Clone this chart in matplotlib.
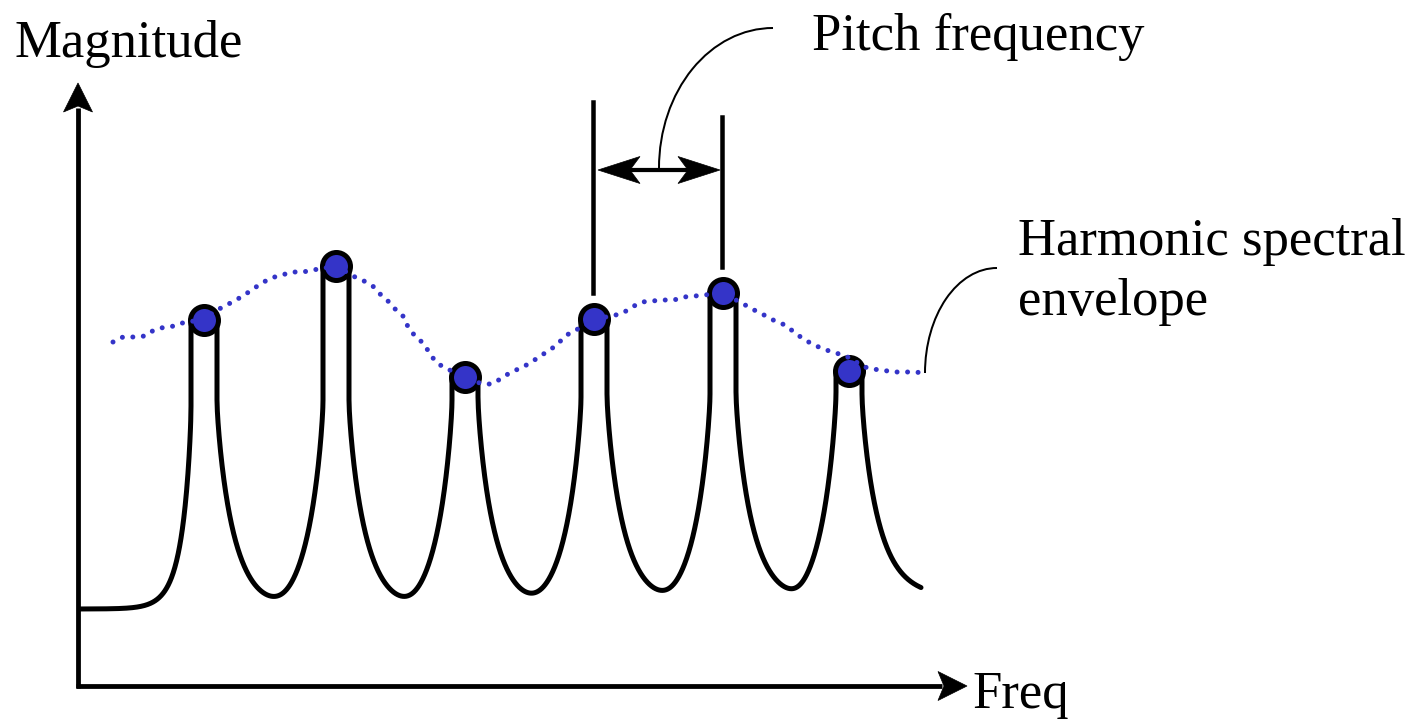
import numpy as np
import matplotlib
matplotlib.use("Agg")
import matplotlib.pyplot as plt
from matplotlib.patches import Polygon, Arc

# ---------------- data (pixel-like units, y grows downward) ----
peak_freq = [204, 336, 465, 594, 723, 849]          # harmonic positions
peak_level = [320, 266, 377, 319, 293, 371]         # peak tops (marker centres)
trough_freq = [277, 407, 533, 665, 795]             # minima between harmonics
floor_level = [609, 603, 603, 600, 597, 595, 597]   # left floor, troughs, right tail level
curve_start, curve_end = 80, 921

env_x = [113, 123, 134, 145, 154, 165, 175, 185, 204, 215, 225, 234, 243, 253, 262, 271,
         282, 292, 303, 313, 336, 355, 364, 374, 381, 389, 396, 404, 408, 415, 423, 429,
         435, 443, 465, 482, 492, 502, 511, 521, 530, 539, 548, 557, 564, 573, 583, 594,
         612, 623, 632, 642, 652, 663, 674, 684, 695, 723, 747, 756, 766, 775, 785, 794,
         802, 812, 821, 832, 843, 852, 862, 871, 882, 893, 903, 914, 925]
env_y = [342, 337, 337, 336, 330, 327, 326, 322, 320, 311, 306, 301, 296, 289, 283, 278,
         275, 272, 272, 270, 266, 277, 281, 287, 295, 302, 310, 317, 327, 336, 343, 352,
         361, 367, 377, 384, 384, 378, 372, 368, 363, 357, 351, 345, 337, 331, 327, 319,
         316, 313, 307, 302, 301, 300, 300, 297, 296, 293, 306, 311, 316, 321, 325, 332,
         338, 344, 348, 352, 355, 359, 366, 369, 370, 372, 372, 372, 373]

pitch_line_top = [102, 117]   # tops of the two pitch marker lines (peaks 4 and 5)

# ---------------- style / layout ----------------
W, H = 1422, 722
PX = 0.72                      # points per pixel at dpi 100
BLUE = "#3434c8"
WALL_HALF = 13                 # half width of the narrow peak tube
WALL_DEPTH = 203               # height of the flaring part above the trough
SQ = 1.5                       # makes the flank leave the wall vertically
LAM_IN, LAM_OUT_L, LAM_OUT_R = 23.0, 14.0, 23.0
TAU = 10.0                     # trough rounding
SERIF = ["Liberation Serif", "DejaVu Serif"]
FS = 38

fig = plt.figure(figsize=(W / 100, H / 100), dpi=100)
ax = fig.add_axes([0, 0, 1, 1])
ax.set_xlim(0, W)
ax.set_ylim(H, 0)
ax.axis("off")


def f_eff(d):
    d = np.maximum(d, 0.0)
    return d + SQ * np.sqrt(d)


def flank(d, D, lam, T):
    """y of a flank at distance d from the tube wall, reaching level T at distance D."""
    if np.isinf(D):
        h = WALL_DEPTH * np.exp(-f_eff(d) / lam)
    else:
        e = np.exp(-f_eff(D) / lam)
        h = WALL_DEPTH * (np.exp(-f_eff(d) / lam) - e) / (1 - e)
    return T - h


def softmin(a, b):
    m = np.minimum(a, b)
    return m - TAU * np.log(np.exp(-(a - m) / TAU) + np.exp(-(b - m) / TAU))


n = len(peak_freq)
xs_all, ys_all = [], []

# left tail of the first harmonic
w0 = peak_freq[0] - WALL_HALF
x = np.linspace(curve_start, w0, 400)
xs_all += list(x)
ys_all += list(flank(w0 - x, np.inf, LAM_OUT_L, floor_level[0]))

for k in range(n):
    xk, yk = peak_freq[k], peak_level[k]
    xs_all += [xk - WALL_HALF, xk + WALL_HALF]
    ys_all += [yk, yk]
    wr = xk + WALL_HALF
    if k < n - 1:
        wl_next = peak_freq[k + 1] - WALL_HALF
        tx = trough_freq[k]
        T = floor_level[k + 1]
        x = np.linspace(wr, wl_next, 600)
        yr = flank(x - wr, tx - wr, LAM_IN, T)
        yl = flank(wl_next - x, wl_next - tx, LAM_IN, T)
        y = softmin(yr, yl)
    else:
        x = np.linspace(wr, curve_end, 400)
        y = flank(x - wr, np.inf, LAM_OUT_R, floor_level[-1])
    xs_all += list(x)
    ys_all += list(y)

ax.plot(xs_all, ys_all, color="black", lw=5 * PX, solid_capstyle="round",
        solid_joinstyle="round", zorder=2)

# harmonic peak markers
ax.plot(peak_freq, peak_level, ls="none", marker="o", ms=28 * PX, mfc=BLUE,
        mec="black", mew=5 * PX, zorder=3)

# spectral envelope (dotted)
ax.plot(env_x, env_y, color=BLUE, lw=5 * PX, ls=(0, (0.001, 2.1)),
        dash_capstyle="round", zorder=4)


def stealth(tip, direction, length, width, notch):
    t = np.array(tip, float)
    u = np.array(direction, float)
    u /= np.hypot(*u)
    p = np.array([-u[1], u[0]])
    back = t - u * length
    pts = [t, back + p * width / 2, t - u * (length - notch), back - p * width / 2]
    ax.add_patch(Polygon(pts, closed=True, facecolor="black", edgecolor="black",
                         lw=0.5, zorder=5))


# axes with arrows
ox, oy = 78, 686
ytip, xtip = 83, 967
ax.plot([ox, ox], [oy + 2, ytip + 25], color="black", lw=4.8 * PX, solid_capstyle="butt", zorder=5)
stealth((ox, ytip), (0, -1), 29, 29, 6)
ax.plot([ox - 2, xtip - 25], [oy, oy], color="black", lw=4.8 * PX, solid_capstyle="butt", zorder=5)
stealth((xtip, oy), (1, 0), 29, 29, 6)

# pitch marker lines and double arrow
for xk, yk, top in zip(peak_freq[3:5], peak_level[3:5], pitch_line_top):
    ax.plot([xk - 1, xk - 1], [yk - 26, top], color="black", lw=4.5 * PX, zorder=5)
arr_y = 170
xa, xb = peak_freq[3] + 4, peak_freq[4] - 3
ax.plot([xa + 30, xb - 30], [arr_y, arr_y], color="black", lw=4.2 * PX, zorder=5)
stealth((xa, arr_y), (-1, 0), 42, 27, 10)
stealth((xb, arr_y), (1, 0), 42, 27, 10)

# leader curves (quarter ellipses)
ax.add_patch(Arc((773, 168), 228, 280, theta1=180, theta2=270, color="black",
                 lw=2 * PX, zorder=5))
ax.add_patch(Arc((997, 373), 144, 210, theta1=180, theta2=270, color="black",
                 lw=2 * PX, zorder=5))

# labels
ax.text(15, 57, "Magnitude", family=SERIF, fontsize=FS, va="baseline", ha="left")
ax.text(972, 708, "Freq", family=SERIF, fontsize=FS, va="baseline", ha="left")
ax.text(812, 50, "Pitch frequency", family=SERIF, fontsize=FS, va="baseline", ha="left")
ax.text(1018, 255, "Harmonic spectral", family=SERIF, fontsize=FS, va="baseline", ha="left")
ax.text(1018, 315, "envelope", family=SERIF, fontsize=FS, va="baseline", ha="left")

fig.savefig("out.png", dpi=100, facecolor="white")
